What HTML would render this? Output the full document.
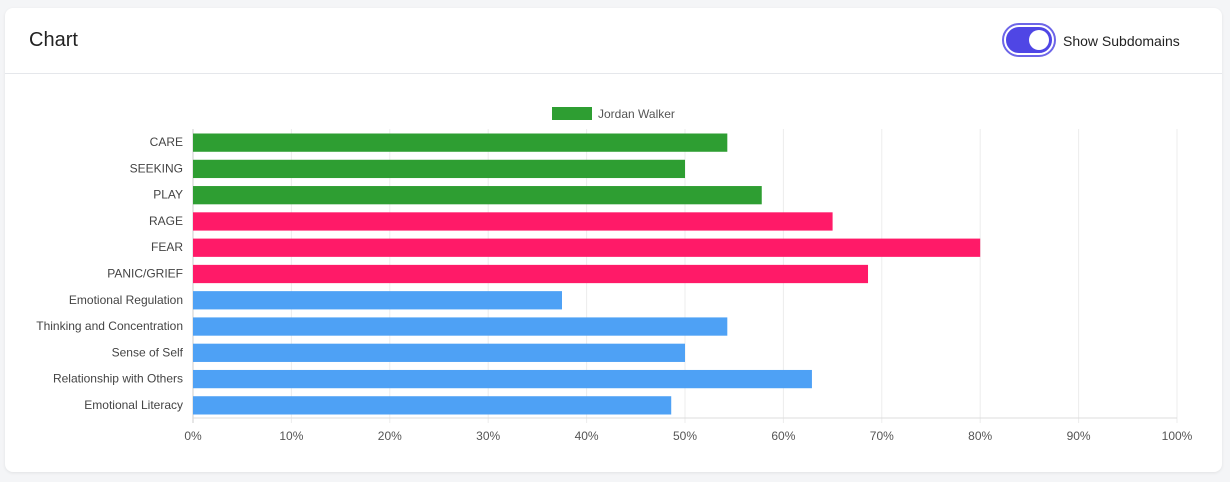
<!DOCTYPE html>
<html><head><meta charset="utf-8"><style>
body{margin:0;width:1230px;height:482px;background:#f4f5f7;font-family:"Liberation Sans",sans-serif;overflow:hidden}
.card{position:absolute;left:5px;top:8px;width:1217px;height:464px;background:#fff;border-radius:8px;box-shadow:0 1px 3px rgba(0,0,0,.08)}
.hdr{height:65px;border-bottom:1px solid #e5e7eb;position:relative}
.title{position:absolute;left:24px;top:21px;font-size:20px;color:#222}
.tog{position:absolute;left:999px;top:17px;width:46px;height:26px;border-radius:15px;background:#4f46e5;border:2px solid #fff;outline:2px solid #6d65e8}
.knob{position:absolute;right:3px;top:3px;width:20px;height:20px;border-radius:50%;background:#fff}
.tl{position:absolute;left:1058px;top:25px;font-size:14px;color:#222}
svg{position:absolute;left:0;top:0}
</style></head><body>
<div class="card">
<div class="hdr">
<div class="title">Chart</div>
<div class="tog"><div class="knob"></div></div>
<div class="tl">Show Subdomains</div>
</div></div>
<svg id="c" width="1230" height="482"></svg>
<script>
const categories=["CARE","SEEKING","PLAY","RAGE","FEAR","PANIC/GRIEF","Emotional Regulation","Thinking and Concentration","Sense of Self","Relationship with Others","Emotional Literacy"];
const values=[54.3,50,57.8,65,80,68.6,37.5,54.3,50,62.9,48.6];
const groups=["g","g","g","r","r","r","b","b","b","b","b"];
const ticks=[0,10,20,30,40,50,60,70,80,90,100];
const colors={g:"#2e9e32",r:"#ff1a68",b:"#4ea1f5"};
const NS="http://www.w3.org/2000/svg",s=document.getElementById('c');
const x0=193,x1=1177,yTop=129,yBot=418,n=categories.length,band=(yBot-yTop)/n;
const X=v=>x0+(x1-x0)*v/100;
function mk(t,a,p){const e=document.createElementNS(NS,t);for(const k in a)e.setAttribute(k,a[k]);(p||s).appendChild(e);return e;}
ticks.forEach(t=>{
const l=mk('line',{x1:X(t),x2:X(t),y1:yTop,y2:yBot+5,stroke:t==0?'#ccc':'#ececec'});


const tx=mk('text',{x:X(t),y:yBot+22,'text-anchor':'middle','font-size':12,fill:'#555','font-family':'Liberation Sans'});tx.textContent=t+'%';


});
mk('line',{x1:x0,x2:x1,y1:yBot,y2:yBot,stroke:'#ddd'});
categories.forEach((c,i)=>{
const y=yTop+i*band;
const r=mk('rect',{x:x0,y:y+4.5,width:X(values[i])-x0,height:band-8,fill:colors[groups[i]]});


const t=mk('text',{x:183,y:y+band/2+4,'text-anchor':'end','font-size':12,fill:'#444','font-family':'Liberation Sans'});t.textContent=c;


});
const lg=mk('rect',{x:552,y:107,width:40,height:13,fill:colors.g});


const lt=mk('text',{x:598,y:118,'font-size':12,fill:'#555','font-family':'Liberation Sans'});lt.textContent='Jordan Walker';


</script>
</body></html>
